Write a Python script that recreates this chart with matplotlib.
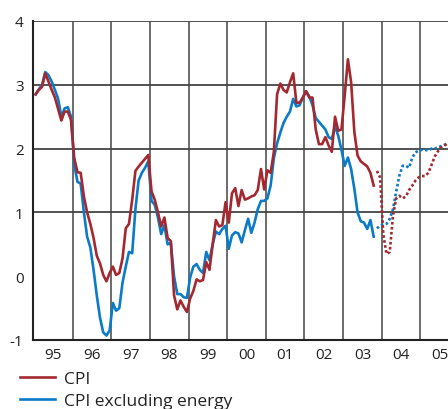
import matplotlib
matplotlib.use("Agg")
import matplotlib.pyplot as plt
import numpy as np

plt.rcParams['font.family'] = ['Open Sans', 'DejaVu Sans']

# Monthly data, Jan 1995 - Oct 2003 (actual)
cpi = [2.85, 2.92, 2.97, 3.18, 3.05, 2.92, 2.80, 2.62, 2.44, 2.58, 2.58, 2.45,
       1.85, 1.63, 1.62, 1.25, 1.00, 0.82, 0.60, 0.32, 0.20, 0.02, -0.08, 0.05,
       0.15, 0.02, 0.05, 0.28, 0.75, 0.82, 1.20, 1.65, 1.72, 1.78, 1.84, 1.90,
       1.33, 1.20, 1.00, 0.78, 0.92, 0.60, 0.55, -0.30, -0.52, -0.38, -0.48, -0.56,
       -0.35, -0.23, -0.05, -0.08, -0.06, 0.22, 0.10, 0.50, 0.88, 0.78, 0.80, 1.16,
       0.84, 1.30, 1.38, 1.10, 1.35, 1.20, 1.22, 1.25, 1.27, 1.35, 1.68, 1.36,
       1.66, 1.62, 1.95, 2.85, 3.02, 2.92, 2.88, 3.04, 3.18, 2.72, 2.72, 2.80,
       2.90, 2.80, 2.80, 2.30, 2.07, 2.07, 2.18, 2.05, 1.95, 2.50, 2.28, 2.30,
       2.83, 3.40, 3.04, 2.26, 1.89, 1.80, 1.76, 1.72, 1.62, 1.42]
cpi_ex = [2.85, 2.93, 3.00, 3.20, 3.15, 3.05, 2.92, 2.78, 2.50, 2.63, 2.65, 2.50,
          1.75, 1.48, 1.45, 1.00, 0.62, 0.45, 0.10, -0.30, -0.65, -0.88, -0.93, -0.85,
          -0.42, -0.54, -0.50, -0.10, 0.15, 0.38, 0.36, 1.05, 1.50, 1.62, 1.70, 1.80,
          1.18, 1.12, 0.92, 0.66, 0.80, 0.50, 0.52, 0.00, -0.28, -0.28, -0.33, -0.34,
          -0.02, 0.15, 0.19, 0.10, 0.05, 0.38, 0.25, 0.50, 0.70, 0.66, 0.74, 0.79,
          0.43, 0.64, 0.69, 0.67, 0.53, 0.72, 0.90, 0.68, 0.84, 1.05, 1.18, 1.18,
          1.22, 1.42, 1.85, 2.08, 2.25, 2.40, 2.50, 2.58, 2.78, 2.66, 2.68, 2.80,
          2.90, 2.82, 2.68, 2.48, 2.42, 2.36, 2.30, 2.18, 2.15, 2.35, 2.20, 1.98,
          1.73, 1.86, 1.68, 1.37, 1.00, 0.86, 0.84, 0.74, 0.88, 0.62]

# Projections, Nov 2003 onward (dotted)
cpi_proj = [1.65, 1.55, 0.65, 0.35, 0.38, 0.95, 1.22, 1.26, 1.22, 1.25, 1.35, 1.42,
            1.50, 1.55, 1.57, 1.57, 1.62, 1.75, 1.88, 1.96, 2.02, 2.05, 2.08]
cpi_ex_proj = [0.75, 0.79, 0.81, 0.82, 0.90, 1.05, 1.33, 1.58, 1.73, 1.73, 1.70, 1.86,
               1.94, 1.97, 1.98, 1.98, 1.97, 2.00, 2.00, 2.02, 2.04, 2.06, 2.08]

year_labels = ['95', '96', '97', '98', '99', '00', '01', '02', '03', '04', '05']
start_year = 1995
y_ticks = [-1, 0, 1, 2, 3, 4]
grid_levels = [1, 2, 3, 4]

RED = '#A4282F'
BLUE = '#0B7BC7'

t_act = start_year + (np.arange(len(cpi)) + 0.5) / 12
t_proj = start_year + (np.arange(len(cpi), len(cpi) + len(cpi_proj)) + 0.5) / 12

fig = plt.figure(figsize=(4.48, 4.10), dpi=100)
ax = fig.add_axes([33.3 / 448, 1 - 341 / 410, 1 - 33.3 / 448, (341 - 22) / 410])

for g in grid_levels:
    ax.axhline(g, color='#444444', lw=1.3, zorder=1)
for k in range(1, len(year_labels)):
    ax.axvline(start_year + k, color='#444444', lw=1.1, zorder=1)

ax.plot(t_act, cpi_ex, color=BLUE, lw=1.9, zorder=3, solid_joinstyle='round')
ax.plot(t_act, cpi, color=RED, lw=1.9, zorder=4, solid_joinstyle='round')
ax.plot(t_proj, cpi_ex_proj, color=BLUE, lw=1.9, ls=(0, (1, 0.9)), zorder=3)
ax.plot(t_proj, cpi_proj, color=RED, lw=1.9, ls=(0, (1, 0.9)), zorder=4)

ax.set_xlim(start_year - 0.018, start_year + 414.7 / 38.7)
ax.set_ylim(-1, 4)
ax.set_yticks(y_ticks)
ax.set_yticklabels([str(v) for v in y_ticks])
ax.set_xticks([start_year + k + 0.5 for k in range(len(year_labels))])
ax.set_xticklabels(year_labels)
ax.tick_params(axis='both', length=0, labelsize=11, colors='#222222')
ax.tick_params(axis='y', pad=7)
ax.tick_params(axis='x', pad=5)

for s in ['top', 'right']:
    ax.spines[s].set_visible(False)
for s in ['left', 'bottom']:
    ax.spines[s].set_color('#222222')
    ax.spines[s].set_linewidth(1.5)

from matplotlib.lines import Line2D
handles = [Line2D([], [], color=RED, lw=1.9), Line2D([], [], color=BLUE, lw=1.9)]
fig.legend(handles, ['CPI', 'CPI excluding energy'], loc='upper left',
           bbox_to_anchor=(0.045, 1 - 372 / 410), frameon=False, fontsize=12.5,
           handlelength=2.0, handletextpad=0.55, labelspacing=0.35,
           borderaxespad=0, borderpad=0, labelcolor='#222222')

fig.savefig('out.png', dpi=100)
